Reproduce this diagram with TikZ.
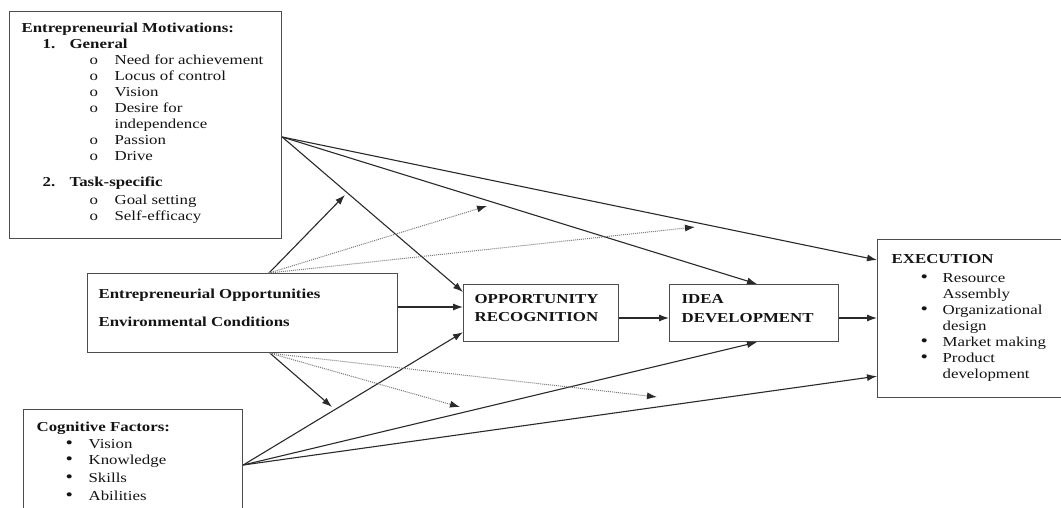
\documentclass[tikz,border=0pt]{standalone}
\usepackage{fontspec}
\setmainfont{Liberation Serif}
\usepackage{graphicx}
\usetikzlibrary{arrows.meta,calc}
\definecolor{boxc}{HTML}{4D4D4D}
\definecolor{linec}{HTML}{2A2A2A}
\definecolor{dotc}{HTML}{7A7A7A}
\definecolor{txtc}{HTML}{141414}
\newcommand\sx[1]{\scalebox{1.23}[1]{#1}}
\newcommand\at[2]{\rlap{\hspace*{#1pt}\sx{#2}}}
\newcommand\bul{\smash{\scalebox{1.25}{\textbullet}}}
\newcommand\boxtext[3]{\parbox[c][#2pt][t]{#1pt}{\fontsize{13.7}{16}\selectfont\lineskiplimit=-100pt\lineskip=0pt\color{txtc}#3}}
\tikzset{
  framebox/.style={draw=boxc, line width=1.2pt, inner sep=0pt, anchor=north west},
  arr/.style={draw=linec, line width=1.1pt, -{Latex[length=10pt,width=7pt]}},
  dotarr/.style={draw=dotc, line width=1pt, dash pattern=on 1pt off 1pt, -{Latex[length=10pt,width=7pt,color=linec]}}
}
\begin{document}
\begin{tikzpicture}[x=1pt,y=-1pt]
\clip (0,0) rectangle (1061,508);
\fill[white] (0,0) rectangle (1061,508);

% Motivations box
\node[framebox] (mot) at (9,11) {\boxtext{272}{227}{%
\rule{0pt}{21pt}\at{12}{\textbf{Entrepreneurial Motivations:}}\\
\at{33}{\textbf{1.}}\at{60}{\textbf{General}}\\
\at{80}{o}\at{105}{Need for achievement}\\
\at{80}{o}\at{105}{Locus of control}\\
\at{80}{o}\at{105}{Vision}\\
\at{80}{o}\at{105}{Desire for}\\
\at{105}{independence}\\
\at{80}{o}\at{105}{Passion}\\
\at{80}{o}\at{105}{Drive}\\[10pt]
\at{33}{\textbf{2.}}\at{60}{\textbf{Task-specific}}\\[2pt]
\at{80}{o}\at{105}{Goal setting}\\
\at{80}{o}\at{105}{Self-efficacy}}};

% Opportunities box
\node[framebox] (opp) at (87,273) {\boxtext{310}{79}{%
\rule{0pt}{25pt}\at{11}{\textbf{Entrepreneurial Opportunities}}\\[12pt]
\at{11}{\textbf{Environmental Conditions}}}};

% Opportunity recognition
\node[framebox] (or) at (463,284) {\boxtext{155}{57}{%
\rule{0pt}{19pt}\at{11}{\textbf{OPPORTUNITY}}\\[2pt]
\at{11}{\textbf{RECOGNITION}}}};

% Idea development
\node[framebox] (id) at (669,284) {\boxtext{169}{57}{%
\rule{0pt}{19pt}\at{12}{\textbf{IDEA}}\\[2.5pt]
\at{12}{\textbf{DEVELOPMENT}}}};

% Execution
\node[framebox] (ex) at (877,239) {\boxtext{193}{158}{%
\rule{0pt}{24pt}\at{14}{\textbf{EXECUTION}}\\[3pt]
\at{43}{\bul}\at{65}{Resource}\\
\at{65}{Assembly}\\
\at{43}{\bul}\at{65}{Organizational}\\
\at{65}{design}\\
\at{43}{\bul}\at{65}{Market making}\\
\at{43}{\bul}\at{65}{Product}\\
\at{65}{development}}};

% Cognitive factors
\node[framebox] (cog) at (23,409) {\boxtext{219}{111}{%
\rule{0pt}{22pt}\at{13}{\textbf{Cognitive Factors:}}\\[0.5pt]
\at{42}{\bul}\at{65}{Vision}\\[0.5pt]
\at{42}{\bul}\at{65}{Knowledge}\\[2pt]
\at{42}{\bul}\at{65}{Skills}\\[2pt]
\at{42}{\bul}\at{65}{Abilities}}};

% named connection points
\coordinate (mA) at ($(mot.north east)+(0,126)$);
\coordinate (oT) at ($(opp.north west)+(182,0)$);
\coordinate (oB) at ($(opp.south west)+(183,0)$);
\coordinate (cA) at ($(cog.north east)+(0,56)$);
\coordinate (t1) at (345,195);
\coordinate (t2) at (487,206);
\coordinate (t3) at (695,227);
\coordinate (b1) at (332,407);
\coordinate (b2) at (460,407);
\coordinate (b3) at (657,397);

% motivations lines
\draw[arr] (mA) -- ($(or.north west)+(0,8)$);
\draw[arr] (mA) -- ($(id.north west)+(88,0)$);
\draw[arr] (mA) -- ($(ex.north west)+(0,21)$);

% cognitive lines
\draw[arr] (cA) -- ($(or.south west)+(0,-10)$);
\draw[arr] (cA) -- ($(id.south west)+(88,0)$);
\draw[arr] (cA) -- ($(ex.south west)+(0,-22)$);

% moderators from opportunities box
\draw[arr] (oT) -- (t1);
\draw[dotarr] (oT) -- (t2);
\draw[dotarr] (oT) -- (t3);
\draw[arr] (oB) -- (b1);
\draw[dotarr] (oB) -- (b2);
\draw[dotarr] (oB) -- (b3);

% main chain
\draw[arr] ($(opp.north east)+(0,34)$) -- ($(or.north west)+(0,23)$);
\draw[arr] ($(or.north east)+(0,34)$) -- ($(id.north west)+(0,34)$);
\draw[arr] ($(id.north east)+(0,34)$) -- ($(ex.north west)+(0,79)$);
\end{tikzpicture}
\end{document}
